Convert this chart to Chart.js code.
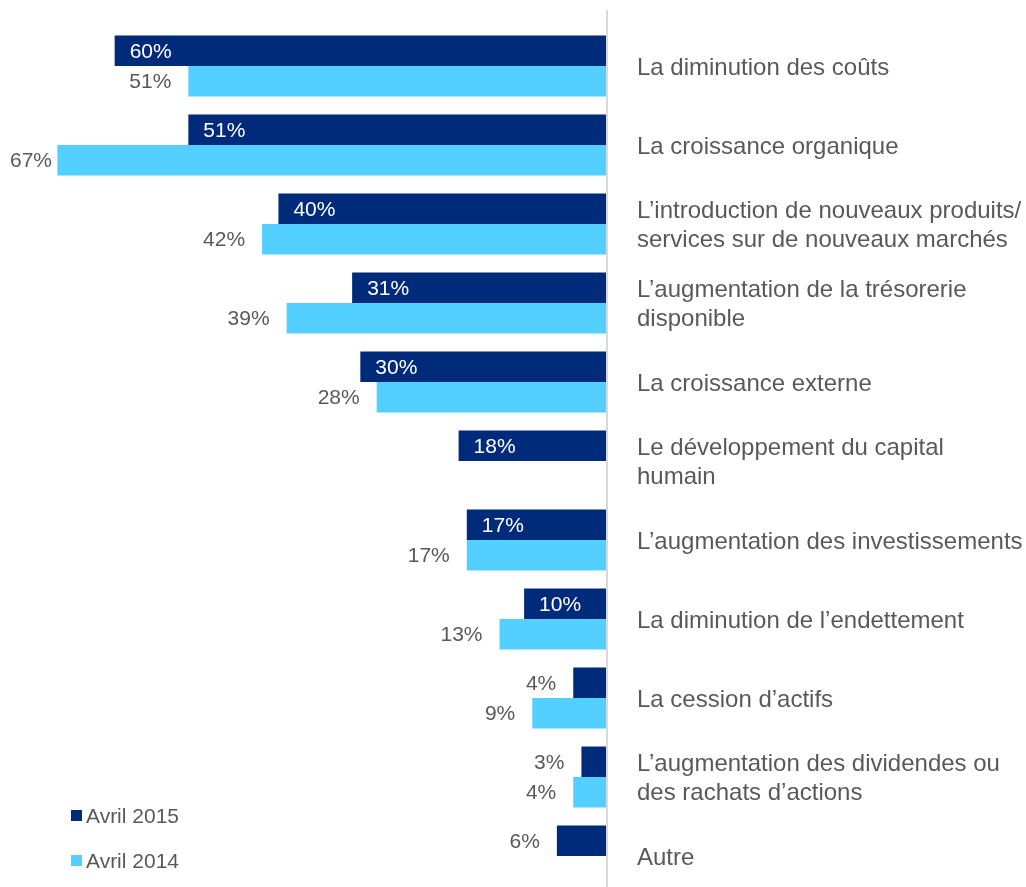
<!DOCTYPE html>
<html>
<head>
<meta charset="utf-8">
<script src="https://cdn.jsdelivr.net/npm/chart.js@4.4.1/dist/chart.umd.min.js"></script>
<style>
  html, body { margin: 0; padding: 0; background: #fff; overflow: hidden; }
  #wrap { width: 1026px; height: 887px; position: relative; }
</style>
</head>
<body>
<div id="wrap"><canvas id="chart-priorites"></canvas></div>
<script>
// categories (multi-line labels as arrays)
const categories = [
    "La diminution des coûts",
    "La croissance organique",
    ["L’introduction de nouveaux produits/", "services sur de nouveaux marchés"],
    ["L’augmentation de la trésorerie", "disponible"],
    "La croissance externe",
    ["Le développement du capital", "humain"],
    "L’augmentation des investissements",
    "La diminution de l’endettement",
    "La cession d’actifs",
    ["L’augmentation des dividendes ou", "des rachats d’actions"],
    "Autre"
];
const valeursAvril2015 = [60, 51, 40, 31, 30, 18, 17, 10, 4, 3, 6];
const valeursAvril2014 = [51, 67, 42, 39, 28, null, 17, 13, 9, 4, null];
const labelSeries = ["Avril 2015", "Avril 2014"];

const couleurFonce = "#002A7A";
const couleurClair = "#53D0FF";
const gris = "#595959";
const police = "'Liberation Sans', Arial, sans-serif";

// etiquettes des valeurs + legende + ligne d'axe
const pluginEtiquettes = {
    id: "etiquettes",
    beforeDatasetsDraw(chart) {
        const ctx = chart.ctx;
        const x = chart.chartArea.right + 1;
        ctx.save();
        ctx.strokeStyle = "#d9d9d9";
        ctx.lineWidth = 2;
        ctx.beginPath();
        ctx.moveTo(x, 10);
        ctx.lineTo(x, chart.height);
        ctx.stroke();
        ctx.restore();
    },
    afterDatasetsDraw(chart) {
        const ctx = chart.ctx;
        ctx.save();
        ctx.font = "21px " + police;
        ctx.textBaseline = "middle";
        chart.data.datasets.forEach((ds, i) => {
            const meta = chart.getDatasetMeta(i);
            meta.data.forEach((bar, j) => {
                const v = ds.data[j];
                if (v === null || v === undefined) return;
                const txt = v + "%";
                const w = ctx.measureText(txt).width;
                if (i === 0 && v >= 10) {
                    ctx.fillStyle = "#ffffff";
                    ctx.textAlign = "left";
                    ctx.fillText(txt, bar.x + 15, bar.y + 1);
                } else {
                    let droite = bar.x - 17;
                    if (droite - w < 10) droite = 10 + w;
                    ctx.fillStyle = gris;
                    ctx.textAlign = "right";
                    ctx.fillText(txt, droite, bar.y + 1);
                }
            });
        });
        ctx.restore();
    },
    afterDraw(chart) {
        // legende en bas a gauche
        const ctx = chart.ctx;
        const positions = [816, 861];
        ctx.save();
        ctx.font = "21px " + police;
        ctx.textBaseline = "middle";
        ctx.textAlign = "left";
        chart.data.datasets.forEach((ds, i) => {
            const y = positions[i];
            ctx.fillStyle = ds.backgroundColor;
            ctx.fillRect(71, y - 6, 11, 11);
            ctx.fillStyle = gris;
            ctx.fillText(ds.label, 86, y + 1);
        });
        ctx.restore();
    }
};

const dataPriorites = {
    labels: categories,
    datasets: [
        {
            label: labelSeries[0],
            data: valeursAvril2015,
            backgroundColor: couleurFonce,
            categoryPercentage: 0.772,
            barPercentage: 1,
            clip: false,
        },
        {
            label: labelSeries[1],
            data: valeursAvril2014,
            backgroundColor: couleurClair,
            categoryPercentage: 0.772,
            barPercentage: 1,
            clip: false,
        },
    ],
};

const configPriorites = {
    type: "bar",
    data: dataPriorites,
    options: {
        indexAxis: "y",
        responsive: true,
        maintainAspectRatio: false,
        animation: false,
        layout: {
            padding: { left: 0, right: 0, top: 66, bottom: 31 }
        },
        scales: {
            x: {
                display: false,
                reverse: true,
                min: 0,
                max: 74,
            },
            y: {
                position: "right",
                offset: false,
                // tick marks not drawn (grid hidden), only their length used as gap
                grid: { display: false, drawTicks: true, tickLength: 31 },
                border: { display: false },
                ticks: {
                    autoSkip: false,
                    padding: 0,
                    labelOffset: 2,
                    color: gris,
                    font: { family: police, size: 24, lineHeight: 1.22 },
                },
                afterFit(scale) {
                    scale.width = 420;
                }
            }
        },
        plugins: {
            legend: { display: false },
            tooltip: { enabled: false }
        }
    },
    plugins: [pluginEtiquettes]
};

new Chart(document.getElementById("chart-priorites"), configPriorites);
</script>
</body>
</html>
